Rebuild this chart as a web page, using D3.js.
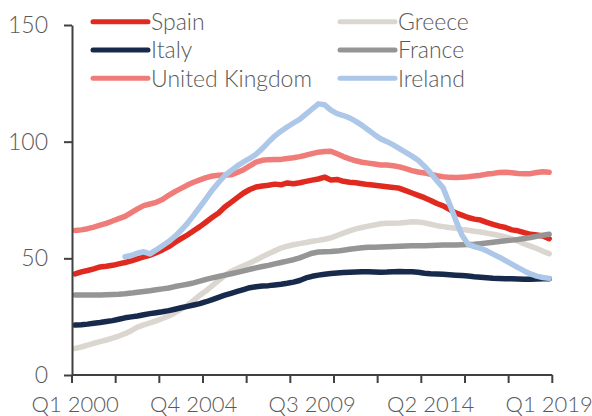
<!DOCTYPE html>
<html>
<head>
<meta charset="utf-8">
<script src="https://cdn.jsdelivr.net/npm/d3@7"></script>
<style>
    body { margin: 0; background: #fff; }
    svg { display: block; font-family: "Lato", "Open Sans", sans-serif; font-weight: 300; }
    .lbl { fill: #595959; font-size: 23px; font-family: "Lato", "Open Sans", sans-serif; font-weight: 300; }
    .xl { font-size: 22px; }
</style>
</head>
<body>
<svg id="chart" width="592" height="416"></svg>
<script>
    //////////// DATA ////////////

    // quarterly categories, Q1 2000 .. Q1 2019
    var quarters = [];
    for (var yr = 2000; yr <= 2019; yr++) {
        for (var q = 1; q <= 4; q++) {
            if (yr === 2019 && q > 1) break;
            quarters.push("Q" + q + " " + yr);
        }
    }

    var xTickLabels = ["Q1 2000", "Q4 2004", "Q3 2009", "Q2 2014", "Q1 2019"];
    var yTicks = [0, 50, 100, 150];

    var spain = [43.3, 44.2, 44.8, 45.5, 46.3, 46.6, 47.0, 47.6, 48.2, 48.9,
        49.8, 50.6, 51.3, 52.4, 53.6, 55.0, 56.8, 58.4, 60.0, 61.8,
        63.6, 65.6, 67.6, 69.4, 72.0, 74.0, 76.0, 78.0, 79.5, 80.6,
        81.0, 81.3, 81.8, 81.5, 82.3, 82.0, 82.4, 83.0, 83.5, 84.0,
        84.8, 83.6, 83.8, 83.0, 82.6, 82.4, 82.0, 81.6, 81.3, 81.0,
        80.7, 80.4, 80.0, 79.0, 78.0, 77.0, 76.0, 74.8, 73.5, 72.5,
        71.0, 69.5, 68.5, 67.5, 66.8, 66.4, 65.4, 64.6, 63.8, 63.2,
        62.2, 61.8, 61.0, 60.3, 60.0, 59.6, 58.4];

    var greece = [11.4, 12.0, 12.8, 13.6, 14.3, 15.0, 15.8, 16.7, 17.7, 19.0,
        20.5, 21.5, 22.3, 23.2, 24.2, 25.3, 26.7, 28.2, 29.9, 32.0,
        34.2, 36.1, 38.3, 40.5, 42.6, 44.4, 45.6, 46.8, 48.0, 49.3,
        50.7, 52.0, 53.2, 54.4, 55.2, 55.8, 56.3, 56.8, 57.3, 57.7,
        58.2, 58.8, 59.8, 60.8, 61.8, 62.6, 63.2, 63.8, 64.3, 64.8,
        65.0, 65.0, 65.1, 65.4, 65.7, 65.6, 65.2, 64.6, 64.0, 63.6,
        63.2, 62.9, 62.4, 62.0, 61.6, 61.3, 60.8, 60.3, 59.8, 59.2,
        58.4, 57.4, 56.2, 55.2, 54.2, 53.0, 52.0];

    var italy = [21.4, 21.5, 21.8, 22.2, 22.5, 22.9, 23.3, 23.9, 24.5, 24.9,
        25.3, 25.8, 26.3, 26.7, 27.1, 27.6, 28.2, 28.8, 29.4, 30.0,
        30.6, 31.4, 32.3, 33.3, 34.2, 35.0, 35.8, 36.6, 37.4, 37.8,
        38.1, 38.3, 38.6, 38.9, 39.3, 39.8, 40.5, 41.6, 42.3, 42.8,
        43.2, 43.5, 43.7, 43.9, 44.0, 44.1, 44.2, 44.2, 44.1, 44.0,
        44.1, 44.3, 44.4, 44.3, 44.2, 44.0, 43.6, 43.4, 43.3, 43.2,
        43.0, 42.8, 42.6, 42.4, 42.1, 41.9, 41.7, 41.5, 41.4, 41.3,
        41.2, 41.1, 41.0, 41.0, 41.1, 41.2, 41.3];

    var france = [34.3, 34.3, 34.3, 34.3, 34.3, 34.4, 34.5, 34.6, 34.8, 35.1,
        35.5, 35.8, 36.1, 36.5, 36.9, 37.3, 37.9, 38.4, 38.9, 39.5,
        40.2, 41.0, 41.6, 42.2, 42.8, 43.4, 44.0, 44.6, 45.3, 45.9,
        46.5, 47.0, 47.6, 48.2, 48.8, 49.4, 50.2, 51.2, 52.2, 52.7,
        52.8, 52.9, 53.1, 53.5, 53.9, 54.2, 54.5, 54.7, 54.8, 54.9,
        55.0, 55.1, 55.2, 55.3, 55.4, 55.4, 55.4, 55.5, 55.6, 55.7,
        55.7, 55.7, 55.8, 55.9, 56.0, 56.3, 56.6, 56.9, 57.2, 57.5,
        57.8, 58.1, 58.5, 58.9, 59.4, 59.9, 60.3];

    var uk = [61.9, 62.2, 62.7, 63.4, 64.2, 65.0, 66.0, 67.0, 68.0, 69.6,
        71.2, 72.6, 73.3, 74.0, 75.2, 77.0, 78.6, 80.0, 81.4, 82.6,
        83.6, 84.6, 85.3, 85.6, 85.7, 85.8, 86.8, 88.0, 89.6, 91.2,
        92.0, 92.3, 92.4, 92.4, 92.8, 93.1, 93.6, 94.2, 94.9, 95.5,
        95.8, 95.9, 94.8, 93.6, 92.6, 91.8, 91.2, 90.8, 90.4, 90.0,
        90.0, 89.7, 89.2, 88.4, 87.6, 87.0, 86.6, 86.0, 85.4, 85.0,
        84.7, 84.6, 84.8, 85.0, 85.3, 85.6, 86.1, 86.4, 86.8, 86.9,
        86.7, 86.4, 86.2, 86.3, 86.8, 87.1, 86.9];

    // Ireland series starts in Q1 2002
    var ireland = [null, null, null, null, null, null, null, null, 50.7, 51.2,
        52.2, 52.8, 51.9, 53.6, 55.4, 57.2, 59.4, 62.0, 65.0, 68.4,
        72.0, 75.6, 79.3, 82.5, 85.5, 87.6, 89.6, 91.3, 92.8, 94.6,
        97.0, 99.8, 102.4, 104.5, 106.3, 108.0, 109.6, 111.8, 114.0, 116.2,
        115.8, 113.5, 112.0, 111.2, 110.2, 108.7, 107.0, 105.0, 103.0, 101.2,
        100.0, 98.6, 97.0, 95.4, 93.8, 92.0, 89.5, 86.5, 83.3, 80.2,
        73.5, 66.5, 60.0, 56.0, 55.0, 54.3, 53.2, 51.8, 50.5, 49.0,
        47.5, 46.0, 44.6, 43.3, 42.4, 41.8, 41.4];

    // draw order follows the original series order (later on top)
    var series = [
        {name: "Spain", values: spain, color: "#e02a20"},
        {name: "Greece", values: greece, color: "#dbd7d0"},
        {name: "Italy", values: italy, color: "#172a4b"},
        {name: "France", values: france, color: "#959595"},
        {name: "United Kingdom", values: uk, color: "#ef7c78"},
        {name: "Ireland", values: ireland, color: "#acc7e8"}
    ];

    // legend reads row by row: Spain, Greece / Italy, France / UK, Ireland
    var legendOrder = ["Spain", "Greece", "Italy", "France", "United Kingdom", "Ireland"];


    //////////// SCALES ////////////

    var svg = d3.select("#chart");
    var plotLeft = 72, plotRight = 552.3, plotTop = 25, plotBottom = 375;

    var x = d3.scaleBand()
        .domain(quarters)
        .range([plotLeft, plotRight])
        .padding(0);

    var y = d3.scaleLinear()
        .domain([0, 150])
        .range([plotBottom, plotTop]);

    function cx(i) {
        return x(quarters[i]) + x.bandwidth() / 2;
    }


    //////////// LINES ////////////

    var line = d3.line()
        .defined(function (d) { return d !== null; })
        .x(function (d, i) { return cx(i); })
        .y(function (d) { return y(d); });

    svg.append("g")
        .attr("class", "lines")
        .selectAll("path")
        .data(series)
        .enter().append("path")
        .attr("fill", "none")
        .attr("stroke", function (d) { return d.color; })
        .attr("stroke-width", 5.5)
        .attr("stroke-linejoin", "round")
        .attr("stroke-linecap", "round")
        .attr("d", function (d) { return line(d.values); });


    //////////// AXES ////////////

    // y axis
    var yAxis = svg.append("g")
        .attr("transform", "translate(" + plotLeft + ",0)")
        .call(d3.axisLeft(y).tickValues(yTicks).tickSize(8).tickPadding(16).tickSizeOuter(0));
    yAxis.attr("font-family", null).attr("font-size", null);
    yAxis.select(".domain").attr("stroke", "#404040").attr("stroke-width", 2);
    yAxis.selectAll(".tick line").attr("stroke", "#404040").attr("stroke-width", 2);
    yAxis.selectAll("text").attr("class", "lbl");

    // x axis line + boundary ticks every 7 quarters
    var xg = svg.append("g").attr("class", "x-axis");
    xg.append("line")
        .attr("x1", plotLeft).attr("x2", plotRight)
        .attr("y1", plotBottom).attr("y2", plotBottom)
        .attr("stroke", "#404040").attr("stroke-width", 2);

    var bounds = d3.range(0, quarters.length + 1, 7).map(function (k) {
        return k < quarters.length ? x(quarters[k]) : plotRight;
    });
    xg.selectAll(".bt")
        .data(bounds)
        .enter().append("line")
        .attr("x1", function (d) { return d; })
        .attr("x2", function (d) { return d; })
        .attr("y1", plotBottom).attr("y2", plotBottom + 8)
        .attr("stroke", "#404040").attr("stroke-width", 2);

    // x labels at category centres
    var xl = svg.append("g")
        .attr("transform", "translate(0," + plotBottom + ")")
        .call(d3.axisBottom(x).tickValues(xTickLabels).tickSize(0).tickPadding(21));
    xl.attr("font-family", null).attr("font-size", null);
    xl.select(".domain").remove();
    xl.selectAll("text").attr("class", "lbl xl");


    //////////// LEGEND ////////////

    var legend = svg.append("g").attr("class", "legend");
    var byName = {};
    series.forEach(function (s) { byName[s.name] = s; });

    var item = legend.selectAll("g")
        .data(legendOrder)
        .enter().append("g")
        .attr("transform", function (d, i) {
            var col = i % 2, row = Math.floor(i / 2);
            return "translate(" + (col === 0 ? 93 : 340) + "," + (21.7 + row * 28.3) + ")";
        });

    item.append("line")
        .attr("x1", 0).attr("x2", 55)
        .attr("stroke", function (d) { return byName[d].color; })
        .attr("stroke-width", 5)
        .attr("stroke-linecap", "round");

    item.append("text")
        .attr("class", "lbl")
        .attr("x", 58)
        .attr("dy", "0.36em")
        .text(function (d) { return d; });
</script>
</body>
</html>
